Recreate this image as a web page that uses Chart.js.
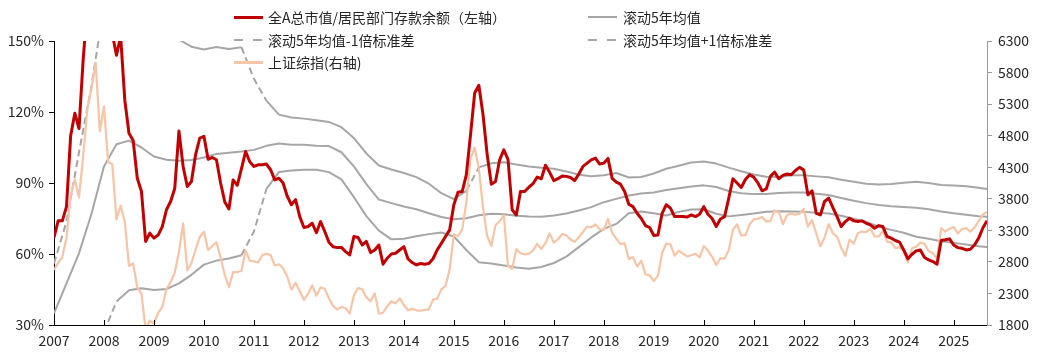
<!DOCTYPE html>
<html>
<head>
<meta charset="utf-8">
<script src="https://cdn.jsdelivr.net/npm/chart.js@4.4.1/dist/chart.umd.min.js"></script>
<style>
html,body{margin:0;padding:0;background:#fff;}
#wrap{position:relative;width:1039px;height:360px;overflow:hidden;}
#c{position:absolute;left:0;top:0;}
.lg{position:absolute;font-family:"Noto Sans CJK SC",sans-serif;font-size:14px;color:#262626;line-height:20px;white-space:nowrap;}
.sw{position:absolute;}
</style>
</head>
<body>
<div id="wrap">
<canvas id="c" width="1039" height="360"></canvas>
<div class="sw" style="left:234px;top:16px;width:29px;height:3px;background:#C00000"></div>
<div class="lg" style="left:268px;top:7px">全A总市值/居民部门存款余额（左轴）</div>
<div class="sw" style="left:588px;top:16px;width:29px;height:2px;background:#A6A6A6"></div>
<div class="lg" style="left:623px;top:7px">滚动5年均值</div>
<div class="sw" style="left:234px;top:39px;width:9px;height:2px;background:#A6A6A6"></div>
<div class="sw" style="left:253px;top:39px;width:9px;height:2px;background:#A6A6A6"></div>
<div class="lg" style="left:268px;top:30px">滚动5年均值-1倍标准差</div>
<div class="sw" style="left:588px;top:39px;width:9px;height:2px;background:#A6A6A6"></div>
<div class="sw" style="left:607px;top:39px;width:9px;height:2px;background:#A6A6A6"></div>
<div class="lg" style="left:623px;top:30px">滚动5年均值+1倍标准差</div>
<div class="sw" style="left:234px;top:61px;width:29px;height:3px;background:#F6C4A6"></div>
<div class="lg" style="left:268px;top:52px">上证综指(右轴)</div>
</div>
<script>
// Monthly series: index 0 = end of Dec 2006, last = Aug 2025
const startYear = 2007;
const ratio = [
67,
74,74,80,110,119.5,113,142,165,185,190,175,170,
160,153,144,152,125,111,108,92,86.4,65.3,68.8,66.7,
68,71.6,78.7,82.2,87.8,112,97,88.5,90.6,102,109,109.7,
100,100.8,99.8,90,82,79,91.3,89,96,103.3,99,97,
97.7,97.7,98,95.6,91.3,92,90,84.4,80.8,83,75.8,71.2,
71.6,73,69,73.7,69.5,65,63.1,62.7,62.8,61,59.6,67.4,
67,63.8,65.3,60.6,61.7,63.8,55.7,58.2,60,60.3,61.7,63.1,
57.9,56.4,55.4,56,55.7,56,58,61.7,64.5,67.4,70.2,80.8,
86.1,86.4,93.5,110.4,128,131.3,118.9,102,89.5,90.6,99.8,104,
100,78.7,76.5,86.4,86.4,88.2,89.7,92.5,91.8,97.5,94.5,91,
91.8,93,92.8,92.3,91,93.8,97,98.4,99.8,100.5,98,98.4,
100.4,92,90.4,89.5,86.4,81,80,77.2,75,72,71.2,67.8,
68,77.2,80.8,79.4,75.8,75.8,75.8,75.6,76.5,75.8,76.8,80,
76.8,75,71.6,74.8,75.8,83.6,91.8,90,88.1,91.5,93.5,92.5,
90,86.7,87.5,92.8,94.6,91.8,93.2,93.8,93.5,95.3,96.6,95.5,
85,86.7,77.2,76.5,82.2,83.6,79.6,75.8,71.6,73.7,75.1,74,
73.7,74,73,72.3,70.9,72,71.6,67.4,66.7,65.7,65,61.7,
58,59.9,61.3,61.7,58.5,57.5,56.8,55.7,65.7,66,66.4,63.8,
62.7,62.4,61.7,62,63.8,66.7,71,74
];
const shIndex = [
2675,
2786,2881,3184,3841,4109,3821,4471,5218,5552,5954,4871,5262,
4383,4348,3473,3693,3433,2736,2775,2397,2293,1729,1871,1821,
1991,2082,2373,2477,2633,2959,3412,2667,2779,2996,3195,3277,
2989,3051,3110,2871,2592,2398,2638,2639,2656,2979,2820,2808,
2791,2905,2928,2912,2743,2762,2701,2568,2359,2469,2334,2199,
2293,2429,2263,2397,2373,2225,2103,2048,2086,2069,1981,2269,
2385,2366,2237,2178,2301,1979,1994,2098,2175,2142,2221,2116,
2033,2056,2033,2026,2039,2048,2202,2217,2364,2420,2683,3235,
3210,3310,3748,4441,4612,4277,3664,3206,3053,3383,3445,3539,
2738,2688,3004,2938,2917,2930,2979,3085,3005,3100,3250,3104,
3159,3242,3223,3155,3117,3192,3273,3361,3349,3393,3317,3307,
3481,3259,3169,3082,3095,2847,2876,2725,2821,2603,2588,2494,
2585,2941,3091,3078,2899,2979,2933,2886,2905,2929,2872,3050,
2977,2880,2750,2860,2852,2985,3310,3396,3218,3225,3392,3473,
3483,3509,3442,3447,3615,3591,3397,3544,3568,3547,3564,3640,
3361,3462,3252,3047,3186,3399,3253,3202,3024,2893,3151,3089,
3255,3280,3273,3323,3205,3202,3291,3120,3110,3018,3030,2975,
2789,3015,3041,3105,3087,2967,2939,2842,3337,3280,3326,3352,
3251,3321,3336,3279,3347,3444,3550,3590
];
// Rolling band lines, sampled every 3 months (last sample = Aug 2025)
const bandMean = [
34.9,47.6,60.3,77,97,106.4,107.9,105,101.2,99.8,
99.4,99.7,100.8,102.3,102.8,103.3,104,105.7,106.7,106.2,
106.2,105.7,105.6,103,97,89.5,83,81.5,80.1,78.9,
77.2,75.6,74.7,75.1,76.4,77,76.8,76.2,75.8,75.7,
76.3,77.1,78.4,79.8,81.9,83.3,84.7,85.6,86,87,
87.8,88.5,89,88.3,86.6,85.7,85.3,85.4,85.8,86,
86,85.5,84.9,83.7,82.5,81.5,80.7,80.2,79.9,79.5,
78.9,78,77.2,76.6,76,
75.7
];
const bandHigh = [
56,73.7,103,131,165,178,182,176,166,157,
150.6,147.6,146.4,147.5,146.6,147.4,134,124.8,118.9,117.7,
117.2,116.5,115.8,113.6,109,102.5,97.4,95.7,94.2,92.5,
89.7,85.7,83.2,86.7,96.6,98.3,98.8,97.8,97,96.4,
96,94.9,93.5,92.9,93.3,94.2,92.3,92.5,94,96,
97.3,98.7,99.1,98.2,96.5,95,93.6,92.6,92.5,93.3,
93.3,92.8,92.4,91.4,90.5,89.7,89.4,89.6,90.1,90.5,
90,89.2,88.9,88.6,88,
87.5
];
const bandLow = [
10,12,15,20,27,39.9,44.7,45.5,44.8,45.2,
47.6,51.2,55.5,57.2,58.1,59.5,69.5,87.5,94.6,95.3,
95.6,95.6,94.6,91.5,84,76,69.9,66.2,66.4,67.5,
68.4,69.1,67.4,61.7,56.5,56,55.1,54.3,53.8,54.5,
56.2,58.9,62.9,67,70.6,72.7,77.2,78,77.2,76.3,
77.8,78.8,78.9,77,75.9,76.5,77.1,77.9,78.1,78,
77.8,77.4,77.1,76.2,74.9,73.5,71.5,70.2,69,67.3,
66.4,65.4,64.7,64,63.3,
63
];
const yearTicks = [2007,2008,2009,2010,2011,2012,2013,2014,2015,2016,2017,2018,2019,2020,2021,2022,2023,2024,2025];
const leftTicks = [30,60,90,120,150];
const rightTicks = [1800,2300,2800,3300,3800,4300,4800,5300,5800,6300];

const lastMonth = ratio.length - 1;
const monthX = j => startYear + j / 12;
const bandMonths = bandMean.map((_, k) => k < bandMean.length - 1 ? k * 3 : lastMonth);
const toPts = (arr, idx) => arr.map((v, k) => ({x: monthX(idx ? idx[k] : k), y: v}));

const dashSeg = {borderDash: c => Math.abs(c.p1.y - c.p0.y) > 20 ? [7, 4] : undefined};

const innerTicks = {
  id: 'innerTicks',
  afterDraw(chart) {
    const {ctx, chartArea, scales} = chart;
    ctx.save();
    ctx.strokeStyle = '#000';
    ctx.lineWidth = 1;
    yearTicks.forEach(v => {
      const px = Math.round(scales.x.getPixelForValue(v)) + 0.5;
      ctx.beginPath();
      ctx.moveTo(px, chartArea.bottom);
      ctx.lineTo(px, chartArea.bottom - 5);
      ctx.stroke();
    });
    ctx.restore();
  }
};

const font = {family: '"Noto Sans CJK SC", sans-serif', size: 14};

new Chart(document.getElementById('c'), {
  type: 'line',
  data: {
    datasets: [
      {label: '全A总市值/居民部门存款余额（左轴）', data: toPts(ratio), yAxisID: 'y', borderColor: '#C00000', borderWidth: 3, clip: 0},
      {label: '上证综指(右轴)', data: toPts(shIndex), yAxisID: 'y2', borderColor: '#F6C4A6', borderWidth: 2.2, clip: 0},
      {label: '滚动5年均值', data: toPts(bandMean, bandMonths), yAxisID: 'y', borderColor: '#A6A6A6', borderWidth: 2, clip: 0},
      {label: '滚动5年均值-1倍标准差', data: toPts(bandLow, bandMonths), yAxisID: 'y', borderColor: '#A6A6A6', borderWidth: 2, clip: 0, segment: dashSeg},
      {label: '滚动5年均值+1倍标准差', data: toPts(bandHigh, bandMonths), yAxisID: 'y', borderColor: '#A6A6A6', borderWidth: 2, clip: 0, segment: dashSeg}
    ]
  },
  options: {
    responsive: false,
    animation: false,
    devicePixelRatio: 1,
    events: [],
    parsing: true,
    elements: {point: {radius: 0}, line: {tension: 0, borderCapStyle: 'butt', borderJoinStyle: 'round'}},
    layout: {padding: {top: 41, left: 0, right: 0, bottom: 0}},
    plugins: {legend: {display: false}, tooltip: {enabled: false}},
    scales: {
      x: {
        type: 'linear',
        min: startYear,
        max: monthX(lastMonth),
        afterBuildTicks: s => { s.ticks = yearTicks.map(v => ({value: v})); },
        afterFit: s => { s.height = 35; },
        grid: {display: false, drawTicks: false},
        border: {display: true, color: '#000', width: 1},
        ticks: {autoSkip: false, maxRotation: 0, padding: 7, font, color: '#262626', callback: v => String(v)}
      },
      y: {
        type: 'linear',
        position: 'left',
        min: 30, max: 150,
        afterBuildTicks: s => { s.ticks = leftTicks.map(v => ({value: v})); },
        afterFit: s => { s.width = 54; },
        grid: {drawOnChartArea: false, drawTicks: true, tickLength: 5, color: '#000'},
        border: {display: true, color: '#000', width: 1},
        ticks: {padding: 5, font, color: '#262626', callback: v => v + '%'}
      },
      y2: {
        type: 'linear',
        position: 'right',
        min: 1800, max: 6300,
        afterBuildTicks: s => { s.ticks = rightTicks.map(v => ({value: v})); },
        afterFit: s => { s.width = 52; },
        grid: {drawOnChartArea: false, drawTicks: true, tickLength: 5, color: '#9A9A9A'},
        border: {display: true, color: '#9A9A9A', width: 1},
        ticks: {padding: 6, font, color: '#262626', callback: v => String(v)}
      }
    }
  },
  plugins: [innerTicks]
});
</script>
</body>
</html>
